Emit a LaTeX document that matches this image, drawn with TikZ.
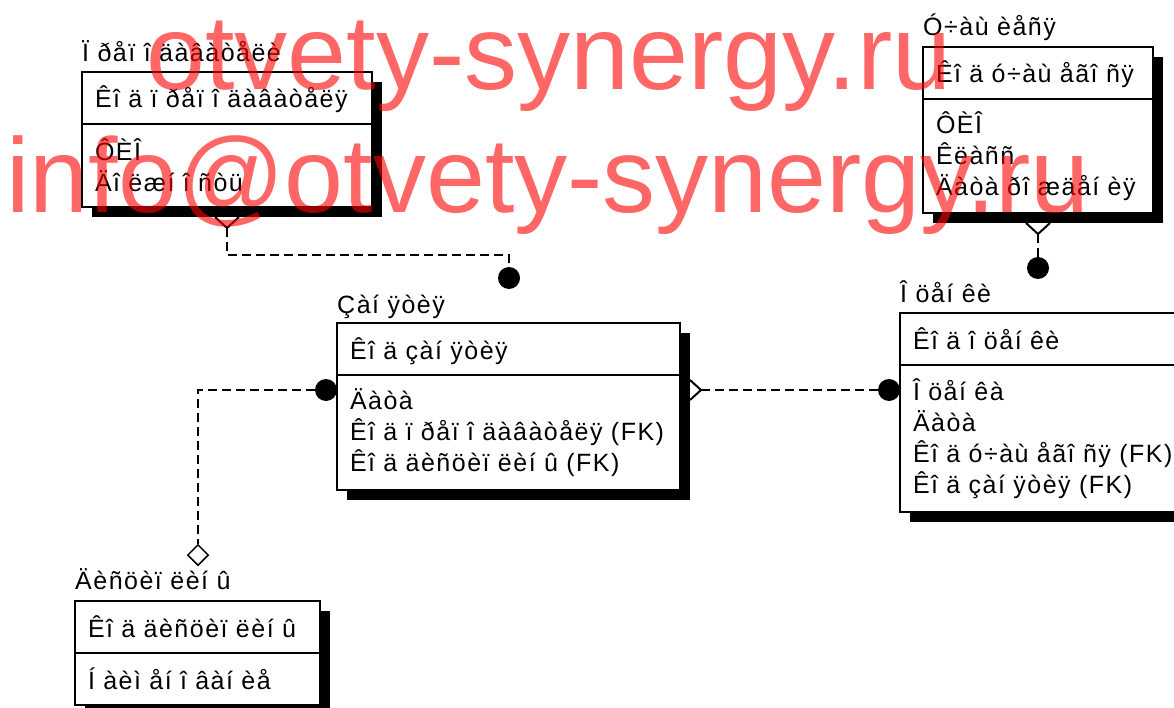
\documentclass[tikz,border=0pt]{standalone}
\usepackage{fontspec}
\setmainfont{Liberation Sans}
\newfontfamily\erfont[LetterSpace=6]{Liberation Sans}
\usetikzlibrary{positioning, calc, shapes.geometric, shadows}
\tikzstyle{Rel} = [
%dashed relationship line
line width = 2pt,
dash pattern = on 9pt off 5pt
]
\begin{document}
\begin{tikzpicture}[x = 1pt, y = -1pt,
			ename/.style = {anchor = base west, inner sep = 0pt, font = \erfont\fontsize{25}{31}\selectfont},
			keybox/.style = {rectangle, draw, line width = 2pt, fill = white, outer sep = 0pt, align = left, text width = #1,
				inner xsep = 13pt, inner ysep = 0pt, minimum height = 52pt, text height = 22pt, text depth = 2pt,
				font = \erfont\fontsize{25}{31}\selectfont,
				drop shadow = {shadow xshift = 10pt, shadow yshift = -10pt, fill = black, opacity = 1}},
			attrbox/.style = {keybox = #1, text height = {}, text depth = {}},
			dot/.style = {circle, fill = black, inner sep = 0pt, minimum size = 22pt},
			dia/.style = {diamond, draw, fill = white, line width = 1.5pt, inner sep = 0pt, minimum size = 21pt},
			foot/.style = {line width = 2pt},
			wmark/.style = {anchor = base west, inner sep = 0pt, text = red, text opacity = 0.6, font = \fontsize{106}{106}\selectfont},
		]
		\path[use as bounding box, fill = white] (0,0) rectangle (1174,708);

		% entities
		\node[keybox = 264pt, anchor = north west] (e1k) at (82,72) {Êî ä ï ðåï î äàâàòåëÿ};
		\node[attrbox = 264pt, minimum height = 83pt, below = 0pt of e1k] (e1a) {ÔÈÎ\\Äî ëæí î ñòü};
		\node[ename] (e1t) at ([yshift = 10pt]e1k.north west) {Ï ðåï î äàâàòåëè};

		\node[keybox = 204pt, anchor = north west] (e2k) at (923,47) {Êî ä ó÷àù åãî ñÿ};
		\node[attrbox = 204pt, minimum height = 114pt, below = 0pt of e2k] (e2a) {ÔÈÎ\\Êëàññ\\Äàòà ðî æäåí èÿ};
		\node[ename] (e2t) at ([yshift = 11pt]e2k.north west) {Ó÷àù èåñÿ};

		\node[keybox = 317pt, anchor = north west] (e3k) at (337,323) {Êî ä çàí ÿòèÿ};
		\node[attrbox = 317pt, minimum height = 115pt, below = 0pt of e3k] (e3a) {Äàòà\\Êî ä ï ðåï î äàâàòåëÿ (FK)\\Êî ä äèñöèï ëèí û (FK)};
		\node[ename] (e3t) at ([yshift = 10pt]e3k.north west) {Çàí ÿòèÿ};

		\node[keybox = 274pt, anchor = north west] (e4k) at (900,313) {Êî ä î öåí êè};
		\node[attrbox = 274pt, minimum height = 147pt, below = 0pt of e4k] (e4a) {Î öåí êà\\Äàòà\\Êî ä ó÷àù åãî ñÿ (FK)\\Êî ä çàí ÿòèÿ (FK)};
		\node[ename] (e4t) at ([yshift = 11pt]e4k.north west) {Î öåí êè};

		\node[keybox = 219pt, anchor = north west] (e5k) at (75,601) {Êî ä äèñöèï ëèí û};
		\node[attrbox = 219pt, minimum height = 52pt, below = 0pt of e5k] (e5a) {Í àèì åí î âàí èå};
		\node[ename] (e5t) at ([yshift = 12pt]e5k.north west) {Äèñöèï ëèí û};

		% relationship ends
		\node[dot] (d1) at (509,278) {};
		\node[dot] (d2) at (1038,268) {};
		\node[dot] (d3) at (889,390) {};
		\node[dot] (d4) at (326,390) {};
		\node[dia] (m1) at (198,555) {};

		\coordinate (f1) at ([yshift = -10pt]e1a.south);
		\coordinate (f2) at ([yshift = -10pt]e2a.south);
		\coordinate (f3) at (690,390);

		\draw[foot] ([xshift = -12pt]f1) -- ++(12,11) -- ++(12,-11);
		\draw[foot] ([xshift = -12pt]f2) -- ++(12,11) -- ++(12,-11);
		\draw[foot] ([yshift = 10pt]f3) -- ++(11,10) -- ++(-11,10);

		\draw[Rel] ([yshift = -11pt]f1) -- ++(0,27) -| (d1);
		\draw[Rel] ([yshift = -11pt]f2) -- (d2);
		\draw[Rel] ([xshift = 11pt]f3) -- (d3);
		\draw[Rel] (d4) -| (m1);

		\node[wmark] (w1) at (146,90) {otvety-synergy.ru};
		\node[wmark] (w2) at (6,213) {info@otvety-synergy.ru};

	\end{tikzpicture}
\end{document}
